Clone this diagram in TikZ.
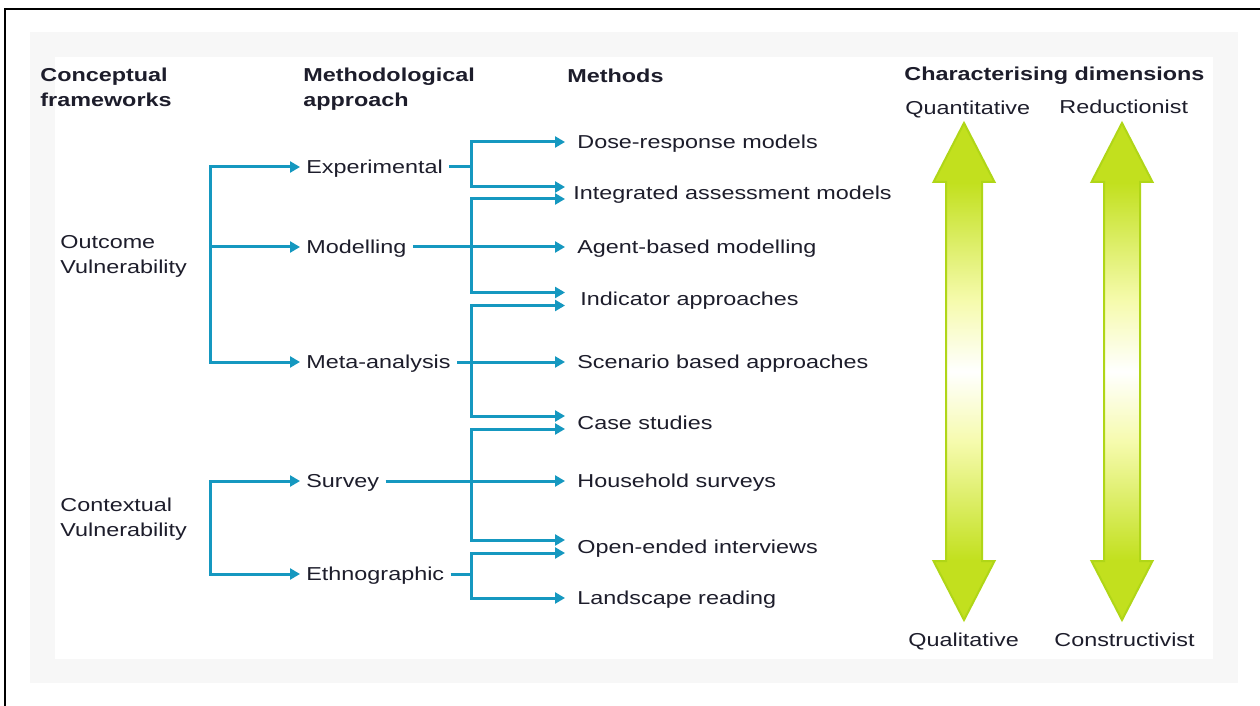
\documentclass[tikz,border=0pt]{standalone}
\usepackage{fontspec}
\setmainfont{Liberation Sans}[FakeStretch=1.25]
\usetikzlibrary{arrows.meta,calc}

\definecolor{linkblue}{HTML}{1598C0}
\definecolor{inkdark}{HTML}{1D1D2B}
\definecolor{dimgreen}{HTML}{C2E01E}
\definecolor{dimedge}{HTML}{B0D617}
\definecolor{dimpale}{HTML}{F6FBAE}
\definecolor{panelgrey}{HTML}{F7F7F7}

% fade of the two dimension arrows: green heads, pale middle
\pgfdeclareverticalshading{dimfade}{100bp}{color(0bp)=(dimgreen); color(25bp)=(dimgreen); color(31bp)=(dimgreen); color(43bp)=(dimpale); color(50bp)=(white); color(57bp)=(dimpale); color(69bp)=(dimgreen); color(75bp)=(dimgreen); color(100bp)=(dimgreen)}

\tikzset{
  heading/.style={font=\bfseries\fontsize{9.35}{12.5}\selectfont, text=inkdark, inner sep=0pt, anchor=north west, align=left},
  frametext/.style={font=\fontsize{9.35}{12.5}\selectfont, text=inkdark, inner sep=0pt, anchor=north west, align=left},
  approach/.style={font=\fontsize{9.35}{12.5}\selectfont, text=inkdark, inner xsep=3pt, inner ysep=0pt, text height=6.7pt, text depth=0pt, anchor=west},
  method/.style={approach},
  link/.style={draw=linkblue, line width=1.5pt},
  flow/.style={link, -{Triangle[length=5pt,width=5.5pt]}}
}

\begin{document}
\begin{tikzpicture}[x=0.5pt,y=-0.5pt]
\useasboundingbox (0,0) rectangle (1260,706);

% Panel and frame
\fill[panelgrey] (30,32) rectangle (1238,683);
\fill[white] (55,57) rectangle (1213,659);
\draw[line width=1pt] (5,706) -- (5,9) -- (1260,9);

% Column headings
\node[heading] (hconc) at (40,68) {Conceptual\\frameworks};
\node[heading] (happr) at (303,68) {Methodological\\approach};
\node[heading] (hmeth) at (567,69) {Methods};
\node[heading] (hdim) at (904,67) {Characterising dimensions};

% Frameworks
\node[frametext] (outcome) at (60,235) {Outcome\\Vulnerability};
\node[frametext] (context) at (60,498) {Contextual\\Vulnerability};

% Approaches
\node[approach] (exper) at (300,167) {Experimental};
\node[approach] (model) at (300,247) {Modelling};
\node[approach] (meta) at (300,362) {Meta-analysis};
\node[approach] (survey) at (300,481) {Survey};
\node[approach] (ethno) at (300,574) {Ethnographic};

% Methods
\node[method] (dose) at (571,142) {Dose-response models};
\node[method] (integ) at (567,193) {Integrated assessment models};
\node[method] (agent) at (571,247) {Agent-based modelling};
\node[method] (indic) at (574,299) {Indicator approaches};
\node[method] (scen) at (571,362) {Scenario based approaches};
\node[method] (cases) at (571,422.5) {Case studies};
\node[method] (house) at (571,481) {Household surveys};
\node[method] (openi) at (571,546.5) {Open-ended interviews};
\node[method] (lands) at (571,598) {Landscape reading};

% Rails for the connectors
\coordinate (trunk) at (210,0);
\coordinate (bar) at (471,0);
\coordinate (tip) at (565,0);

% Frameworks -> approaches
\draw[flow] (model.west -| trunk) |- (exper.west);
\draw[flow] (model.west -| trunk) -- (model.west);
\draw[flow] (model.west -| trunk) |- (meta.west);
\draw[flow] (ethno.west -| trunk) |- (survey.west);
\draw[flow] (survey.west -| trunk) |- (ethno.west);

% Approaches -> methods
\draw[flow] (exper.east) -- (exper.east -| bar) |- (dose.west -| tip);
\draw[flow] (exper.east -| bar) |- ($(integ.west -| tip)+(0,-6)$);
\draw[flow] (model.east) -- (agent.west -| tip);
\draw[flow] (model.east -| bar) |- ($(integ.west -| tip)+(0,6)$);
\draw[flow] (model.east -| bar) |- ($(indic.west -| tip)+(0,-6.5)$);
\draw[flow] (meta.east) -- (scen.west -| tip);
\draw[flow] (meta.east -| bar) |- ($(indic.west -| tip)+(0,6.5)$);
\draw[flow] (meta.east -| bar) |- ($(cases.west -| tip)+(0,-6.5)$);
\draw[flow] (survey.east) -- (house.west -| tip);
\draw[flow] (survey.east -| bar) |- ($(cases.west -| tip)+(0,6.5)$);
\draw[flow] (survey.east -| bar) |- ($(openi.west -| tip)+(0,-6.5)$);
\draw[flow] (ethno.east) -- (ethno.east -| bar) |- ($(openi.west -| tip)+(0,6.5)$);
\draw[flow] (ethno.east -| bar) |- (lands.west -| tip);

% Dimension arrows
\shade[shading=dimfade, draw=dimedge, line width=1pt] (964,123) -- (994.5,182) -- (982,182) -- (982,561) -- (994.5,561) -- (964,620) -- (933.5,561) -- (946,561) -- (946,182) -- (933.5,182) -- cycle;
\shade[shading=dimfade, draw=dimedge, line width=1pt] (1122,123) -- (1152.5,182) -- (1140,182) -- (1140,561) -- (1152.5,561) -- (1122,620) -- (1091.5,561) -- (1104,561) -- (1104,182) -- (1091.5,182) -- cycle;

% Dimension poles
\node[frametext] (quant) at (905,101) {Quantitative};
\node[frametext] (reduc) at (1059,100) {Reductionist};
\node[frametext] (quali) at (908,633) {Qualitative};
\node[frametext] (constr) at (1054,633) {Constructivist};
\end{tikzpicture}
\end{document}
